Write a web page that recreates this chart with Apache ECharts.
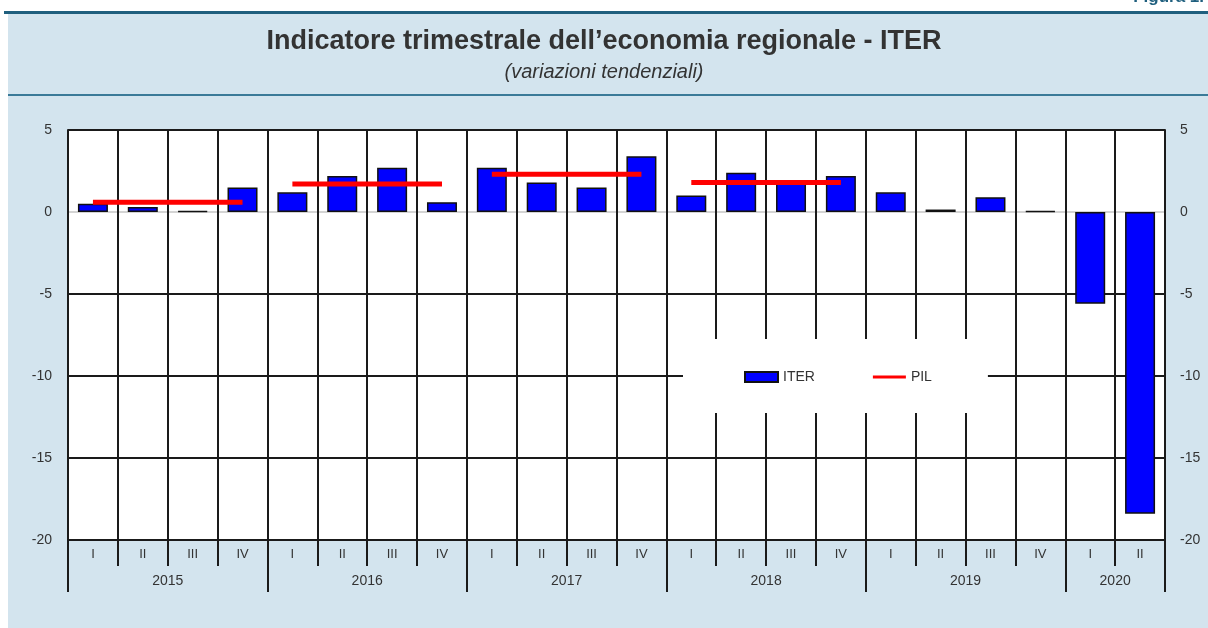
<!DOCTYPE html>
<html>
<head>
<meta charset="utf-8">
<script src="https://cdn.jsdelivr.net/npm/echarts@6/dist/echarts.min.js"></script>
<style>
  html, body { margin: 0; padding: 0; background: #fff; }
  #main { width: 1208px; height: 628px; }
</style>
</head>
<body>
<div id="main"></div>
<script>
// dati
var quarters = ['I', 'II', 'III', 'IV', 'I', 'II', 'III', 'IV', 'I', 'II', 'III', 'IV',
                'I', 'II', 'III', 'IV', 'I', 'II', 'III', 'IV', 'I', 'II'];
var years = ['2015', '2016', '2017', '2018', '2019', '2020'];
var iter = [0.5, 0.3, 0.05, 1.5, 1.2, 2.2, 2.7, 0.6, 2.7, 1.8, 1.5, 3.4,
            1.0, 2.4, 1.9, 2.2, 1.2, 0.15, 0.9, 0.05, -5.6, -18.4];
var pil = [0.6, 1.7, 2.3, 1.8];   // PIL annuale 2015-2018

var yearStart = [0, 4, 8, 12, 16, 20, 22];
var yearMid = [2, 6, 10, 14, 18, 21];

var myChart = echarts.init(document.getElementById('main'));

// una serie PIL per ogni anno, cosi' i segmenti restano separati
var pilSeries = pil.map(function (v, i) {
    var d = quarters.map(function () { return null; });
    for (var k = 0; k < 4; k++) d[i * 4 + k] = v;
    return {
        name: 'PIL',
        type: 'line',
        data: d,
        symbol: 'none',
        z: 5,
        lineStyle: { color: '#ff0000', width: 5 },
        itemStyle: { color: '#ff0000' }
    };
});

var dark = '#1a1a1a';

option = {
    backgroundColor: '#d3e4ee',
    animation: false,
    textStyle: { fontFamily: 'Liberation Sans, Arial, sans-serif' },
    title: {
        left: 'center',
        top: 23,
        text: 'Indicatore trimestrale dell\u2019economia regionale - ITER',
        subtext: '(variazioni tendenziali)',
        itemGap: 7,
        textStyle: {
            fontFamily: 'Liberation Sans Narrow, Arial Narrow, Liberation Sans, sans-serif',
            fontSize: 27, fontWeight: 'bold', color: '#333'
        },
        subtextStyle: {
            fontFamily: 'Liberation Sans Narrow, Arial Narrow, Liberation Sans, sans-serif',
            fontSize: 20, fontStyle: 'italic', color: '#333'
        }
    },
    graphic: [
        { type: 'rect', shape: { x: 0, y: 0, width: 8, height: 628 }, style: { fill: '#fff' } },
        { type: 'rect', shape: { x: 0, y: 0, width: 1208, height: 12 }, style: { fill: '#fff' } },
        { type: 'rect', shape: { x: 4, y: 11, width: 1204, height: 3 }, style: { fill: '#1f5f7e' } },
        { type: 'rect', shape: { x: 8, y: 94, width: 1200, height: 2 }, style: { fill: '#3a7a98' } },
        {
            type: 'text', right: 4, top: -11,
            style: { text: 'Figura 1.', font: 'bold 17px Liberation Sans, Arial', fill: '#1f5f7e' }
        }
    ],
    legend: {
        data: [
            { name: 'ITER', icon: 'rect' },
            { name: 'PIL', icon: 'path://M0,0 M0,3.5 L33,3.5 L33,6.5 L0,6.5 Z M33,10' }
        ],
        left: 683,
        top: 339,
        backgroundColor: '#fff',
        padding: [31, 56, 29, 61],
        itemGap: 58,
        itemWidth: 33,
        itemHeight: 10,
        textStyle: { fontSize: 14, color: '#333' }
    },
    grid: {
        left: 68, right: 43, top: 130, bottom: 88,
        show: true, backgroundColor: '#fff', borderWidth: 0
    },
    xAxis: [
        {
            type: 'category',
            data: quarters,
            position: 'bottom',
            axisLine: { show: true, onZero: false, lineStyle: { color: dark, width: 2 } },
            axisTick: { show: true, interval: 0, length: 26, lineStyle: { color: dark, width: 2 } },
            axisLabel: { interval: 0, fontSize: 13, color: '#333', margin: 8 },
            splitLine: { show: true, interval: 0, lineStyle: { color: dark, width: 2 } }
        },
        {
            type: 'value',
            min: 0, max: 22,
            position: 'bottom',
            axisLine: { show: false, onZero: false },
            axisTick: { show: true, customValues: yearStart, length: 52, lineStyle: { color: dark, width: 2 } },
            axisLabel: {
                customValues: yearMid, fontSize: 14, color: '#333', margin: 34,
                formatter: function (v) { return years[yearMid.indexOf(v)]; }
            },
            splitLine: { show: false }
        }
    ],
    yAxis: [
        {
            type: 'value', min: -20, max: 5, interval: 5,
            axisLine: { show: true, lineStyle: { color: dark, width: 2 } },
            axisTick: { show: false },
            axisLabel: { fontSize: 14, color: '#333', margin: 16 },
            splitLine: {
                show: true,
                lineStyle: { color: [dark, dark, dark, dark, '#d4d4d4', dark], width: 2 }
            }
        },
        {
            type: 'value', min: -20, max: 5, interval: 5, position: 'right',
            axisLine: { show: true, lineStyle: { color: dark, width: 2 } },
            axisTick: { show: false },
            axisLabel: { fontSize: 14, color: '#333', margin: 15 },
            splitLine: { show: false }
        }
    ],
    series: [
        {
            name: 'ITER',
            type: 'bar',
            data: iter,
            barWidth: 30,
            z: 3,
            itemStyle: { color: '#0000ff', borderColor: '#111', borderWidth: 1.5 }
        }
    ].concat(pilSeries)
};

myChart.setOption(option);
</script>
</body>
</html>
